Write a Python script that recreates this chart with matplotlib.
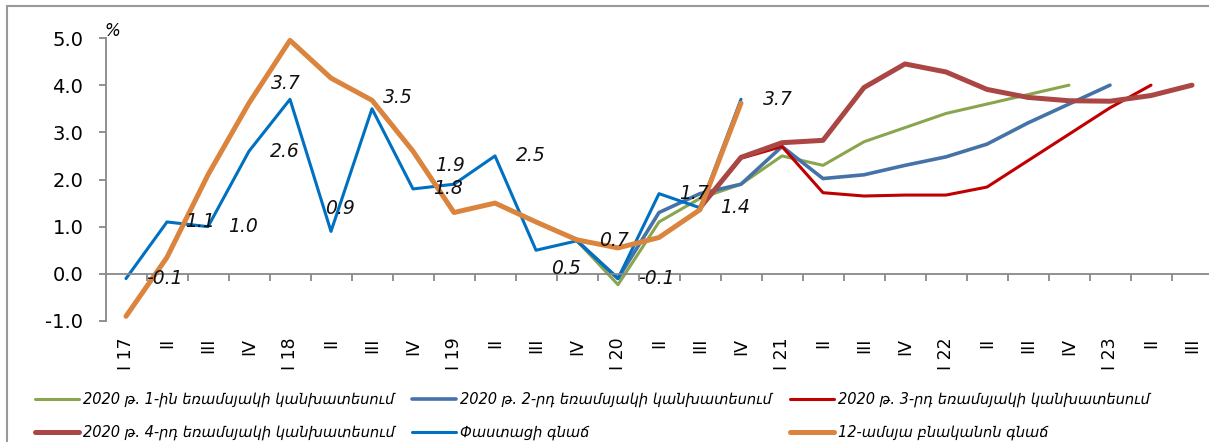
import numpy as np
import matplotlib.pyplot as plt
from matplotlib.patches import Rectangle

nan = np.nan

quarters = ["I 17", "II", "III", "IV", "I 18", "II", "III", "IV", "I 19", "II", "III", "IV",
            "I 20", "II", "III", "IV", "I 21", "II", "III", "IV", "I 22", "II", "III", "IV",
            "I 23", "II", "III"]

actual = [-0.1, 1.1, 1.0, 2.6, 3.7, 0.9, 3.5, 1.8, 1.9, 2.5, 0.5, 0.7,
          -0.1, 1.7, 1.4, 3.7] + [nan] * 11
yoy = [-0.9, 0.35, 2.1, 3.62, 4.95, 4.15, 3.68, 2.6, 1.3, 1.5, 1.1, 0.72,
       0.55, 0.77, 1.36, 3.62] + [nan] * 11
fc_q1 = [nan] * 11 + [0.7, -0.23, 1.1, 1.6, 1.9, 2.5, 2.3, 2.8, 3.1, 3.4, 3.6, 3.8, 4.0] + [nan] * 3
fc_q2 = [nan] * 11 + [0.7, -0.1, 1.3, 1.7, 1.9, 2.7, 2.02, 2.1, 2.3, 2.48, 2.75, 3.2, 3.6, 4.0] + [nan] * 2
fc_q3 = [nan] * 14 + [1.4, 2.45, 2.7, 1.72, 1.65, 1.67, 1.67, 1.84, 2.4, 2.96, 3.52, 4.0, nan]
fc_q4 = [nan] * 14 + [1.4, 2.47, 2.78, 2.83, 3.95, 4.45, 4.28, 3.91, 3.74, 3.67, 3.66, 3.78, 4.0]

names = ["2020 թ. 1-ին եռամսյակի կանխատեսում", "2020 թ. 2-րդ եռամսյակի կանխատեսում",
         "2020 թ. 3-րդ եռամսյակի կանխատեսում", "2020 թ. 4-րդ եռամսյակի կանխատեսում",
         "Փաստացի գնաճ", "12-ամսյա բնականոն գնաճ"]

# label offsets in pixels (dx, dy) for the actual series
label_off = [(38, 0), (33, 0), (35, 0), (36, 0), (-4, 16), (9, 23), (26, 11), (35, 0),
             (-4, 19), (36, 0), (30, -18), (37, 0), (38, 0), (35, 0), (35, 0), (37, 0)]

W, H = 1209, 442
fig = plt.figure(figsize=(W / 100, H / 100), dpi=100)
ax = fig.add_axes([105.5 / W, (H - 321) / H, 27 * 41 / W, 283 / H])

x = np.arange(len(quarters))
series = [(fc_q1, "#89A54E", 2.2), (fc_q2, "#4572A7", 2.6), (fc_q3, "#C00000", 2.2),
          (fc_q4, "#AA4643", 3.6), (actual, "#0070C0", 2.2), (yoy, "#DB843D", 3.6)]
handles = []
for (vals, col, lw), nm in zip(series, names):
    h, = ax.plot(x, vals, color=col, lw=lw, solid_capstyle="round", label=nm)
    handles.append(h)

for i, v in enumerate(actual):
    if np.isnan(v):
        continue
    dx, dy = label_off[i]
    ax.annotate(f"{v:.1f}", (x[i], v), xytext=(dx, dy), textcoords="offset pixels",
                ha="center", va="center", fontsize=13.5, style="italic", color="#111111")

ax.set_xlim(-0.5, len(quarters) - 0.5)
ax.set_ylim(-1, 5)
ax.set_yticks(np.arange(-1, 5.1, 1))
ax.set_yticklabels([f"{v:.1f}" for v in np.arange(-1, 5.1, 1)], fontsize=14)

for s in ["top", "right"]:
    ax.spines[s].set_visible(False)
ax.spines["left"].set_color("#888888")
ax.spines["left"].set_linewidth(1.3)
ax.spines["bottom"].set_position(("data", 0))
ax.spines["bottom"].set_color("#888888")
ax.spines["bottom"].set_linewidth(1.3)

ax.set_xticks(x)
ax.set_xticklabels(quarters, rotation=90, fontsize=12.5, va="top")
ax.tick_params(axis="x", length=0, pad=46)
ax.set_xticks(np.arange(0.5, len(quarters) - 1, 1), minor=True)
ax.tick_params(axis="x", which="minor", length=5, width=1.3, color="#888888", direction="out")
ax.tick_params(axis="y", length=5, width=1.3, color="#888888", pad=11)

ax.annotate("%", (-0.5, 5), xytext=(7, 7), textcoords="offset pixels",
            fontsize=12, style="italic", ha="center", va="center")

order = [0, 3, 1, 4, 2, 5]
fig.legend([handles[i] for i in order], [names[i] for i in order], ncol=3,
           loc="upper left", bbox_to_anchor=(35 / W, (H - 392) / H), frameon=False,
           prop={"size": 10.5, "style": "italic"}, handlelength=3.0, handletextpad=0.3,
           columnspacing=1.2, labelspacing=1.2, borderpad=0, borderaxespad=0)

fig.patches.append(Rectangle((7 / W, -0.1), 1.2, (H - 6) / H + 0.1, transform=fig.transFigure,
                             fill=False, edgecolor="#999999", lw=1.5))

fig.savefig("out.png", dpi=100)
